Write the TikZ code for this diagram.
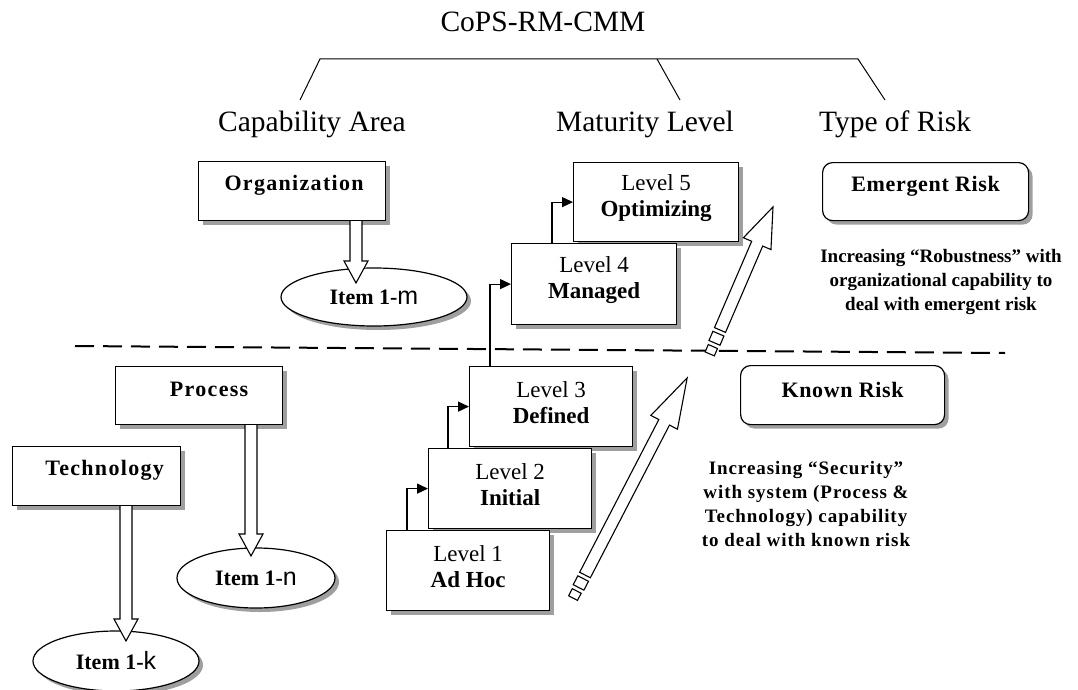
\documentclass[tikz,border=0pt]{standalone}
\usepackage{fontspec}
\setmainfont{Liberation Serif}
\newfontfamily\sansf{Liberation Sans}
\newfontfamily\lsA[LetterSpace=6]{Liberation Serif}
\newfontfamily\lsB[LetterSpace=3]{Liberation Serif}
\newfontfamily\lsS[LetterSpace=5]{Liberation Serif}
\usetikzlibrary{shadows,shapes.geometric,calc,arrows.meta}
\newcommand\hdown[3]{\draw[hollow] (#1-6,#2) -- (#1-6,#3-22) -- (#1-12,#3-22) -- (#1,#3) -- (#1+12,#3-22) -- (#1+6,#3-22) -- (#1+6,#2);}
\begin{document}
\begin{tikzpicture}[x=1pt,y=-1pt,
  shad/.style={drop shadow={shadow xshift=4pt,shadow yshift=-4pt,fill=gray!75,opacity=1}},
  box/.style={draw, line width=1.2pt, fill=white, shad, inner sep=0pt, anchor=north west},
  rbox/.style={box, rounded corners=10pt},
  ell/.style={draw, ellipse, line width=1.2pt, fill=white, shad, inner sep=0pt},
  head/.style={font=\fontsize{29.5}{32}\selectfont},
  lbl/.style={font=\lsA\fontsize{22}{24}\selectfont\bfseries},
  rlbl/.style={font=\lsB\fontsize{22}{24}\selectfont\bfseries},
  lvl/.style={font=\fontsize{23}{26}\selectfont, align=center},
  itm/.style={font=\fontsize{22}{24}\selectfont\bfseries},
  desc/.style={font=\fontsize{19}{24}\selectfont\bfseries, align=center},
  sdesc/.style={font=\lsS\fontsize{19}{24}\selectfont\bfseries, align=center},
  lvlarrow/.style={-{Triangle[length=11pt,width=10pt]}, line width=1.2pt},
  hollow/.style={draw, line width=1.1pt, fill=white, line join=miter},
]
\useasboundingbox (0,0) rectangle (1078,690);

% title and bracket
\node[head] (title) at (543,22) {CoPS-RM-CMM};
\coordinate (bl) at (320,59);
\coordinate (bm) at (657,59);
\coordinate (br) at (858,59);
\coordinate (lc) at (300,100);
\coordinate (mc) at (680,100);
\coordinate (rc) at (885,100);
\draw[line width=1pt] (lc) -- (bl) -- (br) -- (rc);
\draw[line width=1pt] (bm) -- (mc);
\node[head] (cap) at (312,124) {Capability Area};
\node[head] (mat) at (645,124) {Maturity Level};
\node[head] (tor) at (895,124) {Type of Risk};

% capability area
\node[box, minimum width=187pt, minimum height=59pt] (org) at (198,161) {};
\node[lbl] (orgt) at ($(org.center)+(2,-6)$) {Organization};
\node[ell, minimum width=186pt, minimum height=58pt, itm] (im) at (374,297) {Item 1-{\sansf\mdseries\fontsize{25}{25}\selectfont m}};
\hdown{356}{221}{283}

\node[box, minimum width=167pt, minimum height=58pt] (proc) at (115,366) {};
\node[lbl] (proct) at ($(proc.center)+(10,-6)$) {Process};
\node[box, minimum width=168pt, minimum height=59pt] (tech) at (12,446) {};
\node[lbl] (techt) at ($(tech.center)+(8,-6)$) {Technology};
\node[ell, minimum width=158pt, minimum height=60pt, itm] (in) at (256,578) {Item 1-{\sansf\mdseries\fontsize{25}{25}\selectfont n}};
\node[ell, minimum width=166pt, minimum height=60pt, itm] (ik) at (116,661) {Item 1-{\sansf\mdseries\fontsize{25}{25}\selectfont k}};
\hdown{251}{425}{556}
\hdown{126}{506}{641}

% maturity levels
\node[box, minimum width=165pt, minimum height=79pt] (L5) at (573,162) {};
\node[lvl] (L5t) at ($(L5.center)+(0,-4)$) {Level 5\\\textbf{Optimizing}};
\node[box, minimum width=165pt, minimum height=81pt] (L4) at (511,243) {};
\node[lvl] (L4t) at ($(L4.center)+(0,-4)$) {Level 4\\\textbf{Managed}};
\node[box, minimum width=163pt, minimum height=80pt] (L3) at (469,366) {};
\node[lvl] (L3t) at ($(L3.center)+(0,-4)$) {Level 3\\\textbf{Defined}};
\node[box, minimum width=163pt, minimum height=80pt] (L2) at (428,448) {};
\node[lvl] (L2t) at ($(L2.center)+(0,-4)$) {Level 2\\\textbf{Initial}};
\node[box, minimum width=163pt, minimum height=80pt] (L1) at (386,530) {};
\node[lvl] (L1t) at ($(L1.center)+(0,-4)$) {Level 1\\\textbf{Ad Hoc}};
\draw[lvlarrow] ([xshift=21pt]L1.north west) |- (L2.west);
\draw[lvlarrow] ([xshift=20pt]L2.north west) |- (L3.west);
\draw[lvlarrow] ([xshift=21pt]L3.north west) |- (L4.west);
\draw[lvlarrow] ([xshift=41pt]L4.north west) |- (L5.west);

% dashed separator
\coordinate (dl) at (75,346);
\coordinate (dr) at (1005,353);
\draw[line width=2pt, dash pattern=on 19pt off 9pt] (dl) -- (dr);

% striped arrows
\begin{scope}[shift={(585,575)}, rotate=62.6]
  \draw[hollow] (0,-6) -- (172,-6) -- (172,-15) -- (222,0) -- (172,15) -- (172,6) -- (0,6) -- cycle;
  \draw[hollow] (-14,-6) rectangle (-4,6);
  \draw[hollow] (-26,-5) rectangle (-18,5);
\end{scope}
\begin{scope}[shift={(720,330)}, rotate=66.7]
  \draw[hollow] (0,-6) -- (94,-6) -- (94,-15) -- (134,0) -- (94,15) -- (94,6) -- (0,6) -- cycle;
  \draw[hollow] (-14,-6) rectangle (-4,6);
  \draw[hollow] (-26,-5) rectangle (-18,5);
\end{scope}

% risk types
\node[rbox, minimum width=206pt, minimum height=58pt] (em) at (822,162) {};
\node[rlbl] (emt) at ($(em.center)+(0,-5)$) {Emergent Risk};
\node[desc] (rob) at (941,282) {Increasing “Robustness” with\\organizational capability to\\deal with emergent risk};
\node[rbox, minimum width=204pt, minimum height=59pt] (kn) at (740,365) {};
\node[rlbl] (knt) at ($(kn.center)+(0,-5)$) {Known Risk};
\node[sdesc] (sec) at (806,504) {Increasing “Security”\\with system (Process \&\\Technology) capability\\to deal with known risk};
\end{tikzpicture}
\end{document}
